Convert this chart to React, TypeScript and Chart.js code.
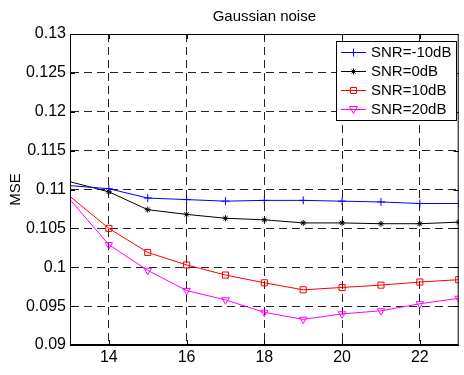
import React, { useEffect, useRef } from "react";
import { Chart, registerables } from "chart.js";

Chart.register(...registerables);

const snrValues = [13, 14, 15, 16, 17, 18, 19, 20, 21, 22, 23];
const xTickValues = [14, 16, 18, 20, 22];
const seriesLabels = ["SNR=-10dB", "SNR=0dB", "SNR=10dB", "SNR=20dB"];
const mseM10 = [0.1105, 0.1101, 0.1089, 0.1087, 0.1085, 0.1086, 0.1086, 0.1085, 0.1084, 0.1082, 0.1082];
const mse0 = [0.1110, 0.1097, 0.1074, 0.1068, 0.1063, 0.1061, 0.1057, 0.1057, 0.1056, 0.1056, 0.1058];
const mse10 = [0.1091, 0.1050, 0.1019, 0.1003, 0.0990, 0.0980, 0.0971, 0.0974, 0.0977, 0.0981, 0.0984];
const mse20 = [0.1087, 0.1029, 0.0996, 0.0970, 0.0958, 0.0942, 0.0933, 0.0940, 0.0944, 0.0953, 0.0960];
const titleText = "Gaussian noise";
const yTitle = "MSE";

const colors = ["#0000ff", "#000000", "#ff0000", "#ff00ff"];
const markers = ["plus", "star", "square", "tri"];
const FONT = "'Liberation Sans', Arial, sans-serif";

function drawMarker(ctx: CanvasRenderingContext2D, kind: string, x: number, y: number, color: string) {
  ctx.save();
  ctx.strokeStyle = color;
  ctx.fillStyle = color;
  ctx.lineWidth = 1;
  ctx.beginPath();
  if (kind === "plus") {
    ctx.moveTo(x - 4, y); ctx.lineTo(x + 4, y);
    ctx.moveTo(x, y - 4); ctx.lineTo(x, y + 4);
    ctx.stroke();
  } else if (kind === "star") {
    ctx.moveTo(x - 3, y); ctx.lineTo(x + 3, y);
    ctx.moveTo(x, y - 3); ctx.lineTo(x, y + 3);
    ctx.moveTo(x - 2, y - 2); ctx.lineTo(x + 2, y + 2);
    ctx.moveTo(x - 2, y + 2); ctx.lineTo(x + 2, y - 2);
    ctx.stroke();
  } else if (kind === "square") {
    ctx.rect(x - 3, y - 3, 6, 6);
    ctx.stroke();
  } else {
    ctx.moveTo(x - 4, y - 3);
    ctx.lineTo(x + 4, y - 3);
    ctx.lineTo(x, y + 4);
    ctx.closePath();
    ctx.stroke();
  }
  ctx.restore();
}

const framePlugin = {
  id: "matlabFrame",
  afterDraw(chart: any) {
    const { ctx, chartArea } = chart;
    const { left, right, top, bottom } = chartArea;
    ctx.save();
    ctx.strokeStyle = "#000";
    ctx.lineWidth = 1;
    ctx.setLineDash([]);
    ctx.strokeRect(left + 0.5, top + 0.5, right - left - 1, bottom - top - 1);
    const ys = chart.scales.y;
    const xs = chart.scales.x;
    ctx.beginPath();
    ys.ticks.forEach((t: any) => {
      const py = Math.round(ys.getPixelForValue(t.value)) + 0.5;
      ctx.moveTo(left, py); ctx.lineTo(left + 5, py);
      ctx.moveTo(right, py); ctx.lineTo(right - 5, py);
    });
    xs.ticks.forEach((t: any) => {
      const px = Math.round(xs.getPixelForValue(t.value)) + 0.5;
      ctx.moveTo(px, bottom); ctx.lineTo(px, bottom - 5);
      ctx.moveTo(px, top); ctx.lineTo(px, top + 5);
    });
    ctx.stroke();
    ctx.fillStyle = "#000";
    ctx.font = "15px " + FONT;
    ctx.textAlign = "center";
    ctx.textBaseline = "middle";
    ctx.fillText(titleText, (left + right) / 2, 17);
    ctx.save();
    ctx.translate(16, (top + bottom) / 2);
    ctx.rotate(-Math.PI / 2);
    ctx.fillText(yTitle, 0, 0);
    ctx.restore();
    const lx = 336, ly = 41, lw = 120, lh = 79;
    ctx.fillStyle = "#fff";
    ctx.fillRect(lx, ly, lw, lh);
    ctx.strokeStyle = "#000";
    ctx.strokeRect(lx + 0.5, ly + 0.5, lw, lh);
    ctx.font = "15px " + FONT;
    ctx.textAlign = "left";
    ctx.textBaseline = "middle";
    seriesLabels.forEach((lab, i) => {
      const ry = 52 + i * 19;
      ctx.strokeStyle = colors[i];
      ctx.lineWidth = 1;
      ctx.beginPath();
      ctx.moveTo(341, ry + 0.5);
      ctx.lineTo(366, ry + 0.5);
      ctx.stroke();
      drawMarker(ctx, markers[i], 353.5, ry + 0.5, colors[i]);
      ctx.fillStyle = "#000";
      ctx.fillText(lab, 371, ry + 1);
    });
    ctx.restore();
  },
};

export default function App() {
  const ref = useRef<HTMLCanvasElement>(null);
  useEffect(() => {
    if (!ref.current) return;
    const series = [mseM10, mse0, mse10, mse20];
    const styles: any[] = [
      { pointStyle: "cross", pointRadius: 4, rotation: 0 },
      { pointStyle: "star", pointRadius: 3, rotation: 0 },
      { pointStyle: "rect", pointRadius: 4.3, rotation: 0 },
      { pointStyle: "triangle", pointRadius: 4.3, rotation: 180 },
    ];
    const chart = new Chart(ref.current, {
      type: "line",
      data: {
        datasets: series.map((s, i) => ({
          label: seriesLabels[i],
          data: s.map((v, j) => ({ x: snrValues[j], y: v })),
          borderColor: colors[i],
          borderWidth: 1,
          backgroundColor: colors[i],
          pointBorderColor: colors[i],
          pointBackgroundColor: i === 1 ? colors[i] : "rgba(0,0,0,0)",
          pointBorderWidth: 1,
          pointStyle: styles[i].pointStyle,
          pointRotation: styles[i].rotation,
          pointRadius: (c: any) => (c.raw && c.raw.x === snrValues[0] ? 0 : styles[i].pointRadius),
          tension: 0,
          clip: 0,
        })),
      },
      options: {
        animation: false,
        responsive: true,
        maintainAspectRatio: false,
        layout: { padding: { top: 34, right: 1, left: 0, bottom: 0 } },
        plugins: { legend: { display: false }, title: { display: false }, tooltip: { enabled: false } },
        scales: {
          x: {
            type: "linear",
            min: 13,
            max: 23,
            ticks: { stepSize: 1, padding: 3, color: "#000", font: { family: FONT, size: 16 } },
            afterBuildTicks: (axis: any) => {
              axis.ticks = xTickValues.map((v) => ({ value: v }));
            },
            afterFit: (axis: any) => { axis.height = 30; },
            grid: { color: "#222", lineWidth: 1, drawTicks: false },
            border: { display: true, color: "#000", dash: [8, 5] },
          },
          y: {
            min: 0.09,
            max: 0.13,
            ticks: {
              stepSize: 0.005,
              padding: 4,
              color: "#000",
              font: { family: FONT, size: 16 },
              callback: (v: any) => parseFloat(Number(v).toFixed(3)).toString(),
            },
            afterFit: (axis: any) => { axis.width = 70; },
            grid: { color: "#222", lineWidth: 1, drawTicks: false },
            border: { display: true, color: "#000", dash: [8, 5] },
          },
        },
      },
      plugins: [framePlugin],
    });
    return () => chart.destroy();
  }, []);
  return (
    <div style={{ position: "fixed", left: 0, top: 0, width: 464, height: 375, background: "#fff" }}>
      <canvas ref={ref} />
    </div>
  );
}
